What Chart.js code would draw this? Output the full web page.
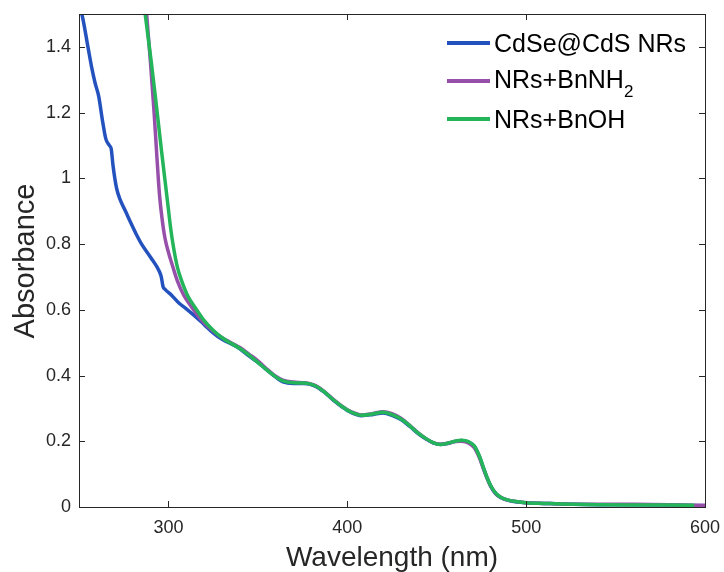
<!DOCTYPE html>
<html>
<head>
<meta charset="utf-8">
<script src="https://cdn.jsdelivr.net/npm/chart.js@4"></script>
<style>
    body { margin: 0; background: #fff; }
    #wrap { position: relative; width: 724px; height: 572px; }
    .leg-line { position: absolute; left: 447px; width: 43px; height: 4px; }
    .leg-text { position: absolute; left: 494px; font: 25px 'Liberation Sans', Arial, sans-serif; line-height: 25px; color: #000; white-space: nowrap; }
    .leg-text sub { font-size: 17px; vertical-align: -9px; line-height: 0; }
</style>
</head>
<body>
<div id="wrap">
    <canvas id="chart" width="724" height="572"></canvas>
    <div class="leg-line" style="top:41px;background:#2352be"></div>
    <div class="leg-text" style="top:31px">CdSe@CdS NRs</div>
    <div class="leg-line" style="top:79px;background:#9650aa"></div>
    <div class="leg-text" style="top:67px">NRs+BnNH<sub>2</sub></div>
    <div class="leg-line" style="top:117px;background:#24b45a"></div>
    <div class="leg-text" style="top:107px">NRs+BnOH</div>
</div>
<script>
// Absorbance spectra

// CdSe@CdS NRs
const nrWavelength = [250, 252, 255, 257, 259, 261, 263, 265, 267, 268, 269, 271, 273, 276, 278.5, 282, 285, 290, 295, 296, 297, 298, 302, 306, 310, 315, 320, 325, 330, 338, 345, 350, 355, 360, 364, 370, 376, 382, 387, 392, 397, 402, 408, 414, 420, 425, 430, 435, 440, 444, 448, 452, 456, 460, 464, 468, 471, 474, 476, 478, 480, 483, 486, 490, 495, 500, 510, 520, 540, 560, 580, 600];
const nrAbs = [1.53, 1.49, 1.40, 1.34, 1.29, 1.25, 1.18, 1.12, 1.10, 1.09, 1.04, 0.97, 0.935, 0.90, 0.87, 0.83, 0.80, 0.76, 0.716, 0.70, 0.67, 0.663, 0.643, 0.62, 0.603, 0.58, 0.555, 0.53, 0.51, 0.488, 0.46, 0.44, 0.417, 0.395, 0.381, 0.376, 0.376, 0.368, 0.35, 0.326, 0.305, 0.288, 0.278, 0.281, 0.286, 0.279, 0.266, 0.245, 0.222, 0.207, 0.195, 0.19, 0.193, 0.199, 0.202, 0.197, 0.185, 0.152, 0.12, 0.09, 0.065, 0.04, 0.028, 0.02, 0.015, 0.013, 0.011, 0.009, 0.007, 0.007, 0.006, 0.004];

// NRs+BnNH2
const amineWavelength = [287.5, 290, 292, 293.5, 295, 296.5, 298, 300, 302.5, 305, 308.5, 313, 316, 320, 325, 330, 335, 340, 345, 350, 355, 360, 364, 370, 376, 382, 387, 392, 397, 402, 408, 414, 420, 425, 430, 435, 440, 444, 448, 452, 456, 460, 464, 468, 471, 474, 476, 478, 480, 483, 486, 490, 495, 500, 510, 520, 540, 560, 580, 600];
const amineAbs = [1.52, 1.35, 1.20, 1.07, 0.95, 0.875, 0.82, 0.775, 0.73, 0.688, 0.645, 0.608, 0.585, 0.56, 0.535, 0.515, 0.50, 0.485, 0.465, 0.445, 0.42, 0.398, 0.386, 0.38, 0.378, 0.37, 0.352, 0.328, 0.307, 0.29, 0.28, 0.284, 0.29, 0.284, 0.27, 0.248, 0.224, 0.208, 0.196, 0.191, 0.194, 0.199, 0.2, 0.194, 0.18, 0.148, 0.118, 0.09, 0.066, 0.041, 0.029, 0.021, 0.016, 0.013, 0.011, 0.009, 0.008, 0.008, 0.007, 0.005];

// NRs+BnOH
const alcoholWavelength = [286.5, 290.5, 293.8, 296, 298.1, 299.9, 301.2, 302.7, 305, 307.4, 311, 314.8, 320, 325, 330, 335, 340, 345, 350, 355, 360, 364, 370, 376, 382, 387, 392, 397, 402, 408, 414, 420, 425, 430, 435, 440, 444, 448, 452, 456, 460, 464, 468, 471, 474, 476, 478, 480, 483, 486, 490, 495, 500, 510, 520, 540, 560, 580, 594];
const alcoholAbs = [1.52, 1.35, 1.196, 1.09, 0.993, 0.91, 0.85, 0.795, 0.73, 0.688, 0.64, 0.608, 0.567, 0.538, 0.515, 0.498, 0.482, 0.462, 0.44, 0.417, 0.396, 0.384, 0.378, 0.377, 0.369, 0.351, 0.327, 0.306, 0.289, 0.279, 0.283, 0.288, 0.281, 0.268, 0.247, 0.223, 0.208, 0.196, 0.19, 0.194, 0.2, 0.203, 0.198, 0.186, 0.153, 0.122, 0.092, 0.067, 0.042, 0.029, 0.021, 0.016, 0.013, 0.011, 0.009, 0.007, 0.006, 0.006, 0.005];

const xTicks = [300, 400, 500, 600];
const yTicks = [0, 0.2, 0.4, 0.6, 0.8, 1, 1.2, 1.4];

const AXIS_COLOR = '#262626';
const FONT = "'Liberation Sans', Arial, sans-serif";

function toPoints(xs, ys) {
    return xs.map((x, i) => ({ x: x, y: ys[i] }));
}

function makeSeries(label, xs, ys, color, order) {
    return {
        label: label,
        data: toPoints(xs, ys),
        borderColor: color,
        backgroundColor: color,
        borderWidth: 3.5,
        pointRadius: 0,
        fill: false,
        cubicInterpolationMode: 'monotone',
        order: order
    };
}

// keep the plot box exactly where the layout padding puts it
function noScalePadding(scale) {
    scale.paddingLeft = 0;
    scale.paddingRight = 0;
    scale.paddingTop = 0;
    scale.paddingBottom = 0;
}

// box around the axes, inward ticks on all four sides, axis titles
const matlabAxes = {
    id: 'matlabAxes',
    afterDraw(chart) {
        const { ctx, chartArea: a, scales } = chart;
        const len = 6;
        ctx.save();
        ctx.strokeStyle = AXIS_COLOR;
        ctx.lineWidth = 1;
        ctx.strokeRect(a.left + 0.5, a.top + 0.5, a.right - a.left, a.bottom - a.top);
        ctx.beginPath();
        xTicks.forEach(v => {
            const px = Math.round(scales.x.getPixelForValue(v)) + 0.5;
            ctx.moveTo(px, a.bottom); ctx.lineTo(px, a.bottom - len);
            ctx.moveTo(px, a.top); ctx.lineTo(px, a.top + len);
        });
        yTicks.forEach(v => {
            const py = Math.round(scales.y.getPixelForValue(v)) + 0.5;
            ctx.moveTo(a.left, py); ctx.lineTo(a.left + len, py);
            ctx.moveTo(a.right, py); ctx.lineTo(a.right - len, py);
        });
        ctx.stroke();

        ctx.fillStyle = AXIS_COLOR;
        ctx.font = '28px ' + FONT;
        ctx.textAlign = 'center';
        ctx.textBaseline = 'alphabetic';
        ctx.fillText('Wavelength (nm)', (a.left + a.right) / 2, 566);
        ctx.translate(34, 261);
        ctx.rotate(-Math.PI / 2);
        ctx.font = '29px ' + FONT;
        ctx.fillText('Absorbance', 0, 0);
        ctx.restore();
    }
};

new Chart(document.getElementById('chart'), {
    type: 'line',
    data: {
        datasets: [
            makeSeries('CdSe@CdS NRs', nrWavelength, nrAbs, '#2352be', 2),
            makeSeries('NRs+BnNH2', amineWavelength, amineAbs, '#9650aa', 1),
            makeSeries('NRs+BnOH', alcoholWavelength, alcoholAbs, '#24b45a', 0)
        ]
    },
    options: {
        responsive: false,
        animation: false,
        layout: { padding: { left: 0, right: 19, top: 14, bottom: 0 } },
        plugins: {
            legend: { display: false },
            tooltip: { enabled: false }
        },
        scales: {
            x: {
                type: 'linear',
                min: 250,
                max: 600,
                grid: { display: false, drawTicks: false },
                border: { display: false },
                afterBuildTicks: scale => { scale.ticks = xTicks.map(v => ({ value: v })); },
                afterFit: scale => { scale.height = 65; noScalePadding(scale); },
                ticks: {
                    color: AXIS_COLOR,
                    padding: 10,
                    maxRotation: 0,
                    font: { family: FONT, size: 18 }
                }
            },
            y: {
                min: 0,
                max: 1.5,
                grid: { display: false, drawTicks: false },
                border: { display: false },
                afterBuildTicks: scale => { scale.ticks = yTicks.map(v => ({ value: v })); },
                afterFit: scale => { scale.width = 79; noScalePadding(scale); },
                ticks: {
                    color: AXIS_COLOR,
                    padding: 8,
                    font: { family: FONT, size: 18 },
                    callback: value => String(value)
                }
            }
        }
    },
    plugins: [matlabAxes]
});
</script>
</body>
</html>
